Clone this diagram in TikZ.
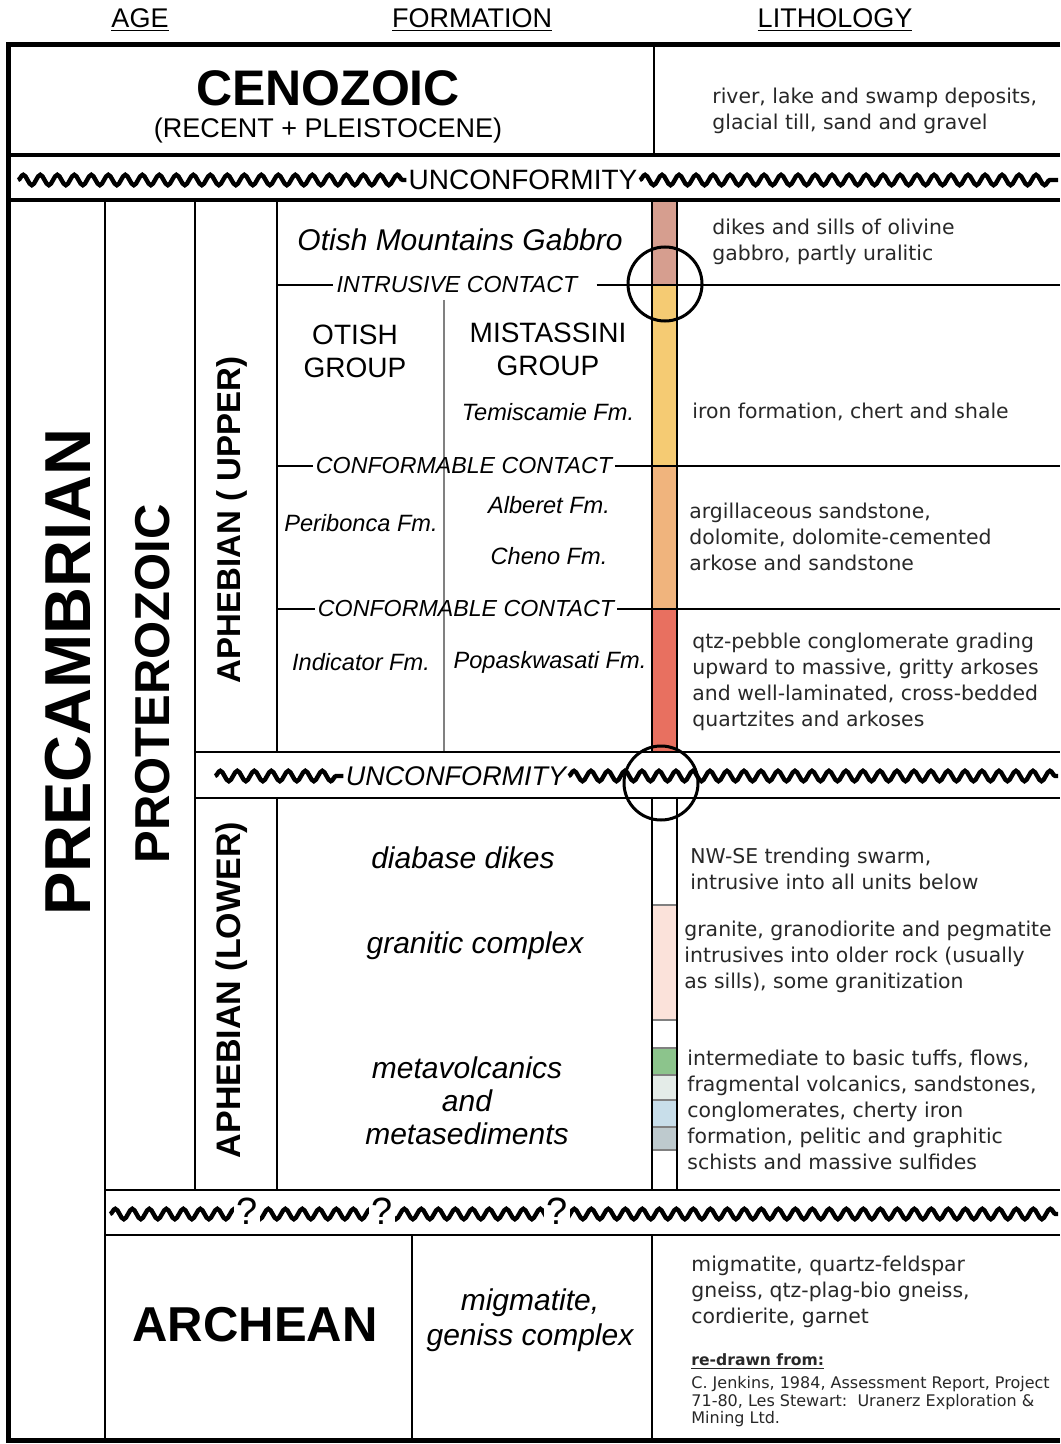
\documentclass[tikz,border=0pt]{standalone}
\usepackage{fontspec}
\setmainfont{Liberation Sans}
\newfontfamily\lithfont{DejaVu Sans}
\usetikzlibrary{decorations.pathmorphing}

\definecolor{gabbrocol}{RGB}{214,158,143}
\definecolor{temiscol}{RGB}{245,203,115}
\definecolor{alberetcol}{RGB}{240,180,125}
\definecolor{popascol}{RGB}{232,112,96}
\definecolor{granitecol}{RGB}{251,226,218}
\definecolor{tuffcol}{RGB}{140,196,140}
\definecolor{flowcol}{RGB}{228,236,232}
\definecolor{sandcol}{RGB}{200,222,234}
\definecolor{schistcol}{RGB}{190,202,206}
\definecolor{lithtext}{RGB}{40,40,40}

\begin{document}
\begin{tikzpicture}[x=0.5pt, y=-0.5pt,
    outer/.style = {line width=2.5pt},
    hline/.style = {line width=1.1pt},
    colhead/.style = {font=\fontsize{13.5}{16}\selectfont},
    bigera/.style = {font=\bfseries\fontsize{25}{30}\selectfont},
    agelabel/.style = {rotate=90, inner sep=0pt},
    unitname/.style = {font=\itshape\fontsize{15}{16.5}\selectfont, align=center},
    fmname/.style = {font=\itshape\fontsize{11.8}{13}\selectfont},
    grouplabel/.style = {font=\fontsize{14}{16.5}\selectfont, align=center},
    contact/.style = {font=\itshape\fontsize{11.6}{13}\selectfont, inner sep=1.5pt},
    lith/.style = {font=\lithfont\fontsize{10.2}{13}\selectfont, text=lithtext, align=left, anchor=west, inner sep=0pt},
    wavyline/.style = {line width=2.2pt, decorate, decoration={snake, amplitude=2.6pt, segment length=8.5pt}},
    qmark/.style = {font=\fontsize{19}{20}\selectfont, fill=white, inner sep=1pt},
    lens/.style = {draw, circle, line width=1.5pt, minimum size=37pt, inner sep=0pt}
]
\fill[white] (0,0) rectangle (1060,1444);
\useasboundingbox (0,0) rectangle (1060,1444);

% column heads
\node[colhead] (age) at (140,20) {\underline{AGE}};
\node[colhead] (formation) at (472,20) {\underline{FORMATION}};
\node[colhead] (lithology) at (835,20) {\underline{LITHOLOGY}};

% colour column
\fill[gabbrocol] (652,200) rectangle (677,285);
\fill[temiscol] (652,285) rectangle (677,466);
\fill[alberetcol] (652,466) rectangle (677,609);
\fill[popascol] (652,609) rectangle (677,752);
\fill[granitecol] (652,905) rectangle (677,1020);
\fill[tuffcol] (652,1048) rectangle (677,1075);
\fill[flowcol] (652,1075) rectangle (677,1100);
\fill[sandcol] (652,1100) rectangle (677,1127);
\fill[schistcol] (652,1127) rectangle (677,1150);
\foreach \y in {905,1020,1048,1075,1100,1127,1150}
    \draw[gray, line width=0.6pt] (652,\y) -- (677,\y);

% frame and rules
\draw[outer] (1060,45) -- (8,45) -- (8,1440) -- (1060,1440);
\draw[hline, line width=1.6pt] (8,155) -- (1060,155) (8,200) -- (1060,200);
\draw[hline] (654,45) -- (654,155);
\draw[hline] (105,200) -- (105,1440);
\draw[hline] (195,200) -- (195,1190);
\draw[hline] (277,200) -- (277,752) (277,798) -- (277,1190);
\draw[gray, line width=0.8pt] (444,300) -- (444,752);
\draw[hline] (652,200) -- (652,752) (677,200) -- (677,752);
\draw[hline] (652,798) -- (652,1190) (677,798) -- (677,1190);
\draw[hline] (195,752) -- (1060,752) (195,798) -- (1060,798);
\draw[hline] (105,1190) -- (1060,1190) (105,1235) -- (1060,1235);
\draw[hline] (412,1235) -- (412,1440) (652,1235) -- (652,1440);

% cenozoic
\node[bigera] (cenozoic) at (328,88) {CENOZOIC};
\node[font=\fontsize{13.5}{16}\selectfont] (recent) at (328,131) {(RECENT + PLEISTOCENE)};

% unconformities
\coordinate (u1a) at (18,180);
\coordinate (u1b) at (1058,180);
\node[font=\fontsize{14}{16}\selectfont, inner sep=1pt] (unc1) at (523,180) {UNCONFORMITY};
\draw[wavyline] (u1a) -- (unc1.west);
\draw[wavyline] (unc1.east) -- (u1b);

\coordinate (u2a) at (215,776);
\coordinate (u2b) at (1058,776);
\node[font=\itshape\fontsize{13.5}{16}\selectfont, inner sep=1pt] (unc2) at (456,776) {UNCONFORMITY};
\draw[wavyline] (u2a) -- (unc2.west);
\draw[wavyline] (unc2.east) -- (u2b);

\coordinate (u3a) at (110,1214);
\coordinate (u3b) at (1058,1214);
\draw[wavyline] (u3a) -- (u3b);
\foreach \x/\n in {247/q1, 382/q2, 557/q3}
    \node[qmark] (\n) at (\x,1211) {?};

% age columns
\node[agelabel, font=\bfseries\fontsize{32.5}{36}\selectfont] (precamb) at (68,672) {PRECAMBRIAN};
\node[agelabel, font=\bfseries\fontsize{24.5}{28}\selectfont] (protero) at (153,684) {PROTEROZOIC};
\node[agelabel, font=\bfseries\fontsize{16.5}{20}\selectfont] (aphup) at (232,520) {APHEBIAN ( UPPER)};
\node[agelabel, font=\bfseries\fontsize{17}{20}\selectfont] (aphlow) at (232,990) {APHEBIAN (LOWER)};
\node[font=\bfseries\fontsize{24.5}{28}\selectfont] (archean) at (255,1325) {ARCHEAN};

% upper aphebian formations
\node[unitname] (gabbro) at (460,240) {Otish Mountains Gabbro};
\node[contact] (intrusive) at (457,285) {INTRUSIVE CONTACT};
\draw[hline] (277,285) -- (intrusive.west);
\draw[hline] (intrusive.east) ++(16,0) -- (1060,285);
\node[grouplabel] (otish) at (355,351) {OTISH\\GROUP};
\node[grouplabel] (mistassini) at (548,349) {MISTASSINI\\GROUP};
\node[fmname] (temiscamie) at (548,412) {Temiscamie Fm.};
\node[contact] (conf1) at (464,466) {CONFORMABLE CONTACT};
\draw[hline] (277,466) -- (conf1.west);
\draw[hline] (conf1.east) -- (1060,466);
\node[fmname] (alberet) at (549,505) {Alberet Fm.};
\node[fmname] (peribonca) at (361,523) {Peribonca Fm.};
\node[fmname] (cheno) at (549,556) {Cheno Fm.};
\node[contact] (conf2) at (466,609) {CONFORMABLE CONTACT};
\draw[hline] (277,609) -- (conf2.west);
\draw[hline] (conf2.east) -- (1060,609);
\node[fmname] (indicator) at (361,662) {Indicator Fm.};
\node[fmname] (popaskwasati) at (550,662) {Popaskwasati Fm.};

% lower aphebian and archean units
\node[unitname] (diabase) at (463,858) {diabase dikes};
\node[unitname] (granitic) at (475,946) {granitic complex};
\node[unitname] (metavol) at (467,1101) {metavolcanics\\and\\metasediments};
\node[unitname, font=\itshape\fontsize{15}{17.5}\selectfont] (migm) at (530,1320) {migmatite,\\geniss complex};

% lithology
\node[lith] (l1) at (712,111) {river, lake and swamp deposits,\\glacial till, sand and gravel};
\node[lith] (l2) at (712,242) {dikes and sills of olivine\\gabbro, partly uralitic};
\node[lith] (l3) at (692,412) {iron formation, chert and shale};
\node[lith] (l4) at (689,537) {argillaceous sandstone,\\dolomite, dolomite-cemented\\arkose and sandstone};
\node[lith] (l5) at (692,682) {qtz-pebble conglomerate grading\\upward to massive, gritty arkoses\\and well-laminated, cross-bedded\\quartzites and arkoses};
\node[lith] (l6) at (690,869) {NW-SE trending swarm,\\intrusive into all units below};
\node[lith] (l7) at (684,957) {granite, granodiorite and pegmatite\\intrusives into older rock (usually\\as sills), some granitization};
\node[lith] (l8) at (687,1110) {intermediate to basic tuffs, flows,\\fragmental volcanics, sandstones,\\conglomerates, cherty iron\\formation, pelitic and graphitic\\schists and massive sulfides};
\node[lith] (l9) at (691,1292) {migmatite, quartz-feldspar\\gneiss, qtz-plag-bio gneiss,\\cordierite, garnet};
\node[lith, font=\lithfont\bfseries\fontsize{7.8}{9}\selectfont] (src) at (691,1362) {\underline{re-drawn from:}};
\node[lith, font=\lithfont\fontsize{8}{7.6}\selectfont] (cite) at (691,1402) {C. Jenkins, 1984, Assessment Report, Project\\71-80, Les Stewart:\ \ Uranerz Exploration \&\\Mining Ltd.};

% circled details
\node[lens] (lens1) at (665,284) {};
\node[lens] (lens2) at (661,783) {};
\end{tikzpicture}
\end{document}
